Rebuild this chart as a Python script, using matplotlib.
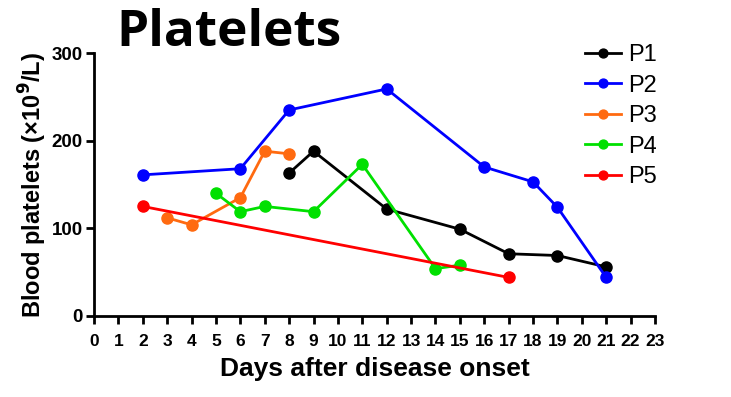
import matplotlib
matplotlib.use("Agg")
import matplotlib.pyplot as plt

p1_days = [8, 9, 12, 15, 17, 19, 21]
p1_vals = [163, 188, 122, 99, 71, 69, 56]
p2_days = [2, 6, 8, 12, 16, 18, 19, 21]
p2_vals = [161, 168, 235, 259, 170, 153, 124, 44]
p3_days = [3, 4, 6, 7, 8]
p3_vals = [112, 104, 135, 188, 185]
p4_days = [5, 6, 7, 9, 11, 14, 15]
p4_vals = [140, 119, 125, 119, 173, 54, 58]
p5_days = [2, 17]
p5_vals = [125, 44]

series = [
    ("P1", p1_days, p1_vals, "#000000"),
    ("P2", p2_days, p2_vals, "#0000ff"),
    ("P3", p3_days, p3_vals, "#ff6a10"),
    ("P4", p4_days, p4_vals, "#00e000"),
    ("P5", p5_days, p5_vals, "#ff0000"),
]
x_ticks = list(range(0, 24))
y_ticks = [0, 100, 200, 300]

plt.rcParams['font.family'] = ['Liberation Sans', 'DejaVu Sans']
fig = plt.figure(figsize=(7.31, 3.97), dpi=100)
ax = fig.add_axes([94/731, 1-316/397, (655-94)/731, (316-53)/397])

handles = []
for name, d, v, c in series:
    h, = ax.plot(d, v, color=c, lw=2, marker='o', ms=8, label=name, clip_on=False)
    handles.append(h)

ax.set_xlim(0, 23)
ax.set_ylim(0, 300)
ax.set_xticks(x_ticks)
ax.set_xticklabels([str(t) for t in x_ticks], fontsize=12.5, fontweight='bold')
ax.set_yticks(y_ticks)
ax.set_yticklabels([str(t) for t in y_ticks], fontsize=13.5, fontweight='bold')
for s in ['top', 'right']:
    ax.spines[s].set_visible(False)
for s in ['left', 'bottom']:
    ax.spines[s].set_linewidth(2)
ax.tick_params(axis='both', width=2, length=6)
ax.tick_params(axis='x', pad=7)
ax.tick_params(axis='y', pad=2)
ax.set_xlabel("Days after disease onset", fontsize=19, fontweight='bold', labelpad=6)
ax.set_ylabel("Blood platelets (×10$^\\mathbf{9}$/L)", fontsize=17, fontweight='bold', labelpad=2)

fig.text(229/731, 1-33/397, "Platelets", fontsize=37, fontweight='bold',
         family=['Open Sans', 'DejaVu Sans'], ha='center', va='center')

leg = fig.legend(handles=handles, loc='upper left', bbox_to_anchor=(564/731, 1-23/397),
                 frameon=False, fontsize=17, handlelength=1.5, labelspacing=0.36,
                 markerscale=0.8, handletextpad=0.3)

fig.savefig("out.png", dpi=100)
